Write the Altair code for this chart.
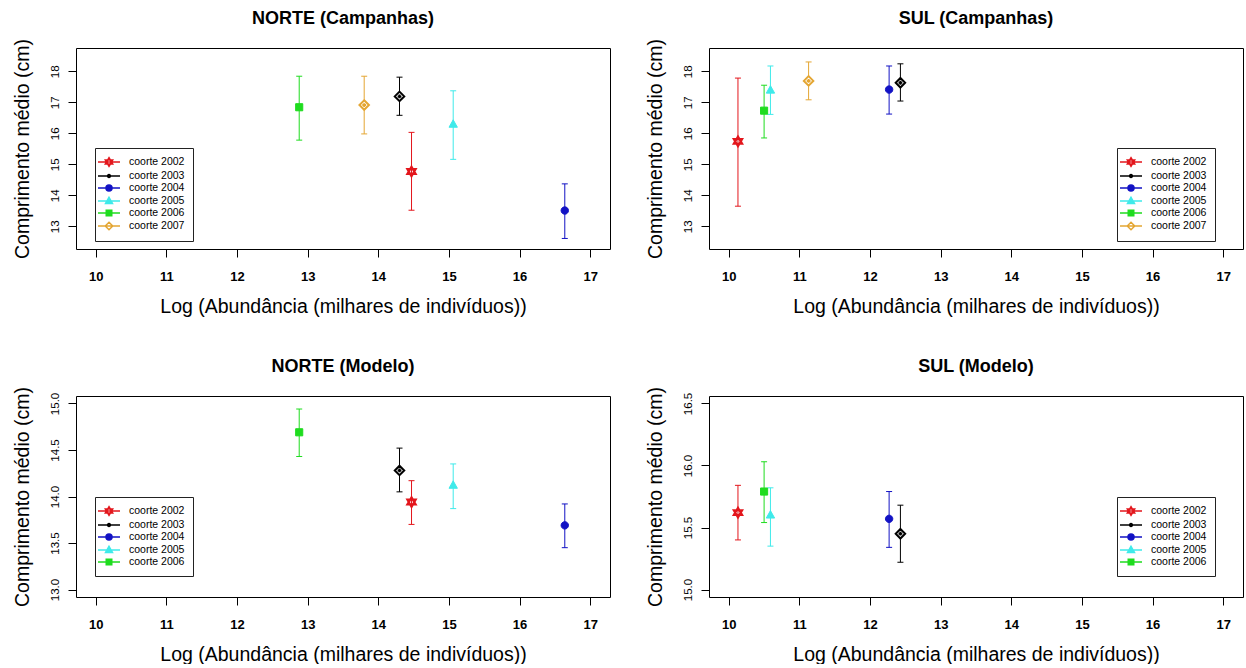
import altair as alt
import pandas as pd

# ---------------- data ----------------
cohorts = ["coorte 2002", "coorte 2003", "coorte 2004", "coorte 2005", "coorte 2006", "coorte 2007"]

norte_camp_x = [14.47, 14.30, 16.64, 15.06, 12.88, 13.80]
norte_camp_y = [14.77, 17.19, 13.51, 16.29, 16.84, 16.91]
norte_camp_lo = [13.52, 16.58, 12.61, 15.16, 15.78, 15.98]
norte_camp_hi = [16.03, 17.81, 14.37, 17.37, 17.84, 17.84]

sul_camp_x = [10.13, 12.43, 12.27, 10.59, 10.50, 11.13]
sul_camp_y = [15.74, 17.63, 17.41, 17.39, 16.73, 17.69]
sul_camp_lo = [13.65, 17.04, 16.62, 16.61, 15.85, 17.08]
sul_camp_hi = [17.78, 18.24, 18.17, 18.17, 17.55, 18.30]

norte_mod_x = [14.47, 14.30, 16.64, 15.06, 12.88]
norte_mod_y = [13.94, 14.28, 13.69, 14.12, 14.69]
norte_mod_lo = [13.70, 14.05, 13.45, 13.87, 14.43]
norte_mod_hi = [14.17, 14.52, 13.92, 14.35, 14.94]

sul_mod_x = [10.13, 12.43, 12.27, 10.59, 10.50]
sul_mod_y = [15.62, 15.45, 15.57, 15.60, 15.79]
sul_mod_lo = [15.40, 15.22, 15.34, 15.35, 15.54]
sul_mod_hi = [15.84, 15.68, 15.79, 15.82, 16.03]

x_ticks = [10, 11, 12, 13, 14, 15, 16, 17]
y_ticks_camp = [13, 14, 15, 16, 17, 18]
y_ticks_norte_mod = [13.0, 13.5, 14.0, 14.5, 15.0]
y_ticks_sul_mod = [15.0, 15.5, 16.0, 16.5]

# ---------------- styles ----------------
FONT = "Liberation Sans"
colors = ["#E3161C", "#000000", "#1212C4", "#3FEAEA", "#1FDC1F", "#E4A633"]

# plot markers (unit box paths)
HEX = "M0,-1L0.87,0.5L-0.87,0.5Z M0,1L0.87,-0.5L-0.87,-0.5Z"
DIAP = "M0,-1L1,0L0,1L-1,0Z M0,-0.4V0.4 M-0.4,0H0.4"
CIRC = "M0.78,0A0.78,0.78 0 1,1 -0.78,0A0.78,0.78 0 1,1 0.78,0Z"
TRI = "M0,-0.95L0.88,0.62L-0.88,0.62Z"
SQR = "M-0.75,-0.75H0.75V0.75H-0.75Z"
mark_paths = [HEX, DIAP, CIRC, TRI, SQR, DIAP]
mark_fills = ["white", "white", colors[2], colors[3], colors[4], "white"]
mark_sw = [2.2, 2, 1, 1, 1, 2]

# legend symbols: line + marker
LINE = "M-2.2,0H2.2 "
leg_paths = [
    LINE + "M0,-0.85L0.74,0.42L-0.74,0.42Z M0,0.85L0.74,-0.42L-0.74,-0.42Z",
    LINE + "M0.3,0A0.3,0.3 0 1,1 -0.3,0A0.3,0.3 0 1,1 0.3,0Z",
    LINE + "M0.6,0A0.6,0.6 0 1,1 -0.6,0A0.6,0.6 0 1,1 0.6,0Z",
    LINE + "M0,-0.75L0.7,0.5L-0.7,0.5Z",
    LINE + "M-0.55,-0.55H0.55V0.55H-0.55Z",
    LINE + "M0,-0.75L0.75,0L0,0.75L-0.75,0Z",
]
leg_fills = ["white", "black", colors[2], colors[3], colors[4], "white"]

XT = "Log (Abundância (milhares de indivíduos))"
YT = "Comprimento médio (cm)"
X_DOMAIN = [9.72, 17.28]
W, H = 534, 201


def panel(title, xs, ys, los, his, ydomain, yticks, yfmt, lx, ly):
    n = len(xs)
    labels = cohorts[:n]
    df = pd.DataFrame({"cohort": labels, "x": xs, "y": ys, "lo": los, "hi": his})
    xscale = alt.Scale(domain=X_DOMAIN, nice=False, zero=False)
    yscale = alt.Scale(domain=ydomain, nice=False, zero=False)
    xaxis = alt.Axis(values=x_ticks, title=XT, format="d")
    yaxis = alt.Axis(values=yticks, title=YT, format=yfmt)
    X = alt.X("x:Q", scale=xscale, axis=xaxis)
    X2 = alt.X2("x:Q")

    base = alt.Chart(df)
    layers = []
    for i, lab in enumerate(labels):
        sub = base.transform_filter(alt.datum.cohort == lab)
        col = colors[i]
        layers.append(sub.mark_rule(strokeWidth=1, color=col).encode(
            x=X, y=alt.Y("lo:Q", scale=yscale, axis=yaxis), y2=alt.Y2("hi:Q")))
        layers.append(sub.mark_rule(strokeWidth=1, color=col, xOffset=-3, x2Offset=3).encode(
            x=X, x2=X2, y=alt.Y("lo:Q", scale=yscale, axis=yaxis)))
        layers.append(sub.mark_rule(strokeWidth=1, color=col, xOffset=-3, x2Offset=3).encode(
            x=X, x2=X2, y=alt.Y("hi:Q", scale=yscale, axis=yaxis)))
        layers.append(sub.mark_point(shape=mark_paths[i], size=90, filled=True,
                                     fill=mark_fills[i], stroke=col,
                                     strokeWidth=mark_sw[i], opacity=1).encode(
            x=X, y=alt.Y("y:Q", scale=yscale, axis=yaxis)))

    leg = alt.Legend(title=None, orient="none", legendX=lx, legendY=ly,
                     padding=8, rowPadding=0, labelOffset=14,
                     strokeColor="#222222", fillColor="white",
                     labelFont=FONT, labelFontSize=10.5, labelColor="black",
                     symbolStrokeWidth=1.5, symbolSize=100)
    legend_layer = base.transform_filter("false").mark_point(
        filled=True, size=100, strokeWidth=1.5, opacity=1).encode(
        x=X, y=alt.Y("y:Q", scale=yscale, axis=yaxis),
        stroke=alt.Stroke("cohort:N", scale=alt.Scale(domain=labels, range=colors[:n]), legend=leg),
        fill=alt.Fill("cohort:N", scale=alt.Scale(domain=labels, range=leg_fills[:n]), legend=leg),
        shape=alt.Shape("cohort:N", scale=alt.Scale(domain=labels, range=leg_paths[:n]), legend=leg),
    )
    layers.append(legend_layer)
    return alt.layer(*layers).properties(
        width=W, height=H, title=alt.Title(title))


p1 = panel("NORTE (Campanhas)", norte_camp_x, norte_camp_y, norte_camp_lo, norte_camp_hi,
           [12.27, 18.75], y_ticks_camp, "d", 19, 100)
p2 = panel("SUL (Campanhas)", sul_camp_x, sul_camp_y, sul_camp_lo, sul_camp_hi,
           [12.27, 18.75], y_ticks_camp, "d", 408, 100)
p3 = panel("NORTE (Modelo)", norte_mod_x, norte_mod_y, norte_mod_lo, norte_mod_hi,
           [12.92, 15.08], y_ticks_norte_mod, ".1f", 19, 101)
p4 = panel("SUL (Modelo)", sul_mod_x, sul_mod_y, sul_mod_lo, sul_mod_hi,
           [14.94, 16.56], y_ticks_sul_mod, ".1f", 408, 101)

chart = alt.concat(p1, p2, p3, p4, columns=2,
                   spacing={"row": 147, "column": 99}, bounds="flush").resolve_scale(
    stroke="independent", fill="independent", shape="independent"
).properties(
    padding={"left": 11, "top": 9, "right": 0, "bottom": 0},
    background="white",
).configure_view(
    stroke="black", strokeWidth=1
).configure_axis(
    domain=False, grid=False, tickColor="black", tickSize=8, tickWidth=1,
    labelFont=FONT, titleFont=FONT, labelColor="black", titleColor="black",
    titleFontSize=19.5, titleFontWeight="normal", labelOverlap=False,
).configure_axisX(
    labelFontSize=13, labelFontWeight="bold", labelPadding=13, titlePadding=14,
).configure_axisY(
    labelAngle=270, labelAlign="center", labelBaseline="bottom",
    labelFontSize=11.5, labelPadding=8, titlePadding=17,
).configure_title(
    font=FONT, fontSize=18, fontWeight="bold", color="black", offset=11, anchor="middle",
)

chart.save("out.html", embed_options={"renderer": "svg", "actions": False})
